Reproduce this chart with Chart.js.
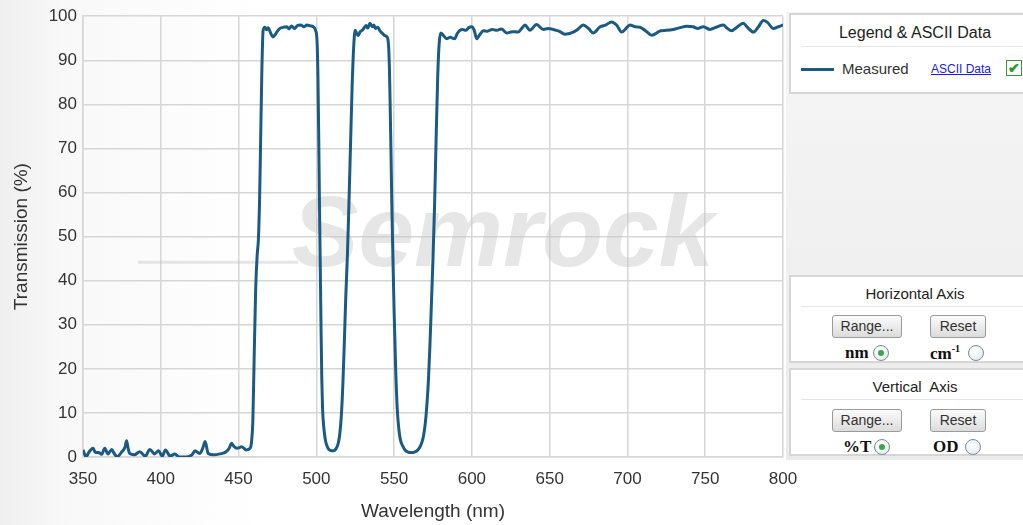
<!DOCTYPE html>
<html><head><meta charset="utf-8">
<script src="https://cdn.jsdelivr.net/npm/chart.js@4/dist/chart.umd.min.js"></script>
<style>
html,body{margin:0;padding:0;width:1023px;height:525px;overflow:hidden;}
body{position:relative;background:linear-gradient(to right,#efefef 0px,#f8f8f8 60px,#ffffff 260px);font-family:"Liberation Sans",Arial,sans-serif;color:#222;}
#c{position:absolute;left:0;top:0;}
#side{position:absolute;left:786px;top:12px;width:237px;height:448px;background:linear-gradient(to bottom,#f6f6f6,#ebebeb);}
.box{position:absolute;left:789px;width:252px;background:#fff;border:2px solid #d6d6d6;box-sizing:border-box;}
.ttl{position:absolute;left:0;width:248px;text-align:center;font-size:16px;color:#222;}
.sep{position:absolute;left:10px;width:230px;height:1px;background:#e6e6e6;}
.btn{position:absolute;height:23px;box-sizing:border-box;border:1px solid #9a9a9a;border-radius:3px;background:linear-gradient(to bottom,#fbfbfb,#dcdcdc);font-size:14px;color:#333;text-align:center;line-height:21px;}
.lbl{position:absolute;font-family:"Liberation Serif","Times New Roman",serif;font-weight:bold;font-size:17px;color:#111;}
.rad{position:absolute;width:16px;height:16px;border-radius:50%;border:1px solid #7a8a99;background:radial-gradient(circle at 40% 35%,#ffffff,#dfe6ec);box-sizing:border-box;}
.rad.on::after{content:"";position:absolute;left:4px;top:4px;width:6px;height:6px;border-radius:50%;background:#3aa64a;}
</style>
</head><body>
<canvas id="c" width="1023" height="525"></canvas>
<div id="side"></div>

<div class="box" style="top:13px;height:81px;">
  <div class="ttl" style="top:9px;">Legend &amp; ASCII Data</div>
  <div class="sep" style="top:31px;"></div>
  <div style="position:absolute;left:10px;top:53px;width:33px;height:3px;background:#1b5a82;"></div>
  <div style="position:absolute;left:51px;top:45px;font-size:15px;color:#333;">Measured</div>
  <div style="position:absolute;left:140px;top:47px;font-size:12px;color:#1a1aee;text-decoration:underline;">ASCII Data</div>
  <div style="position:absolute;left:215px;top:45px;width:16px;height:16px;border:1px solid #3a9a3a;box-sizing:border-box;background:#fff;color:#2a9a2a;font-size:14px;line-height:14px;text-align:center;font-weight:bold;">✔</div>
</div>

<div class="box" style="top:275px;height:88px;">
  <div class="ttl" style="top:8px;font-size:15px;">Horizontal Axis</div>
  <div class="sep" style="top:29px;"></div>
  <div class="btn" style="left:41px;top:38px;width:70px;">Range...</div>
  <div class="btn" style="left:139px;top:38px;width:56px;">Reset</div>
  <div class="lbl" style="left:54px;top:66px;">nm</div>
  <div class="rad on" style="left:82px;top:68px;"></div>
  <div class="lbl" style="left:139px;top:66px;">cm<sup style="font-size:10px;">-1</sup></div>
  <div class="rad" style="left:177px;top:68px;"></div>
</div>

<div class="box" style="top:368px;height:88px;">
  <div class="ttl" style="top:8px;font-size:15px;">Vertical&nbsp; Axis</div>
  <div class="sep" style="top:29px;"></div>
  <div class="btn" style="left:41px;top:39px;width:70px;">Range...</div>
  <div class="btn" style="left:139px;top:39px;width:56px;">Reset</div>
  <div class="lbl" style="left:52px;top:67px;">%T</div>
  <div class="rad on" style="left:83px;top:69px;"></div>
  <div class="lbl" style="left:142px;top:67px;">OD</div>
  <div class="rad" style="left:174px;top:69px;"></div>
</div>

<script>
const wavelengths = [
350,352,354,356.5,358,360,362,364,366,368.5,370,372,375,377,378,379,380,383,386.5,390,
393,396,398.5,401,403,406,409,412,416,420,422,425,427,428.5,430.5,434,438,442,444,445.5,
447,449,452,455,457.5,458.5,459.2,460,461,462,462.7,463.5,464.2,465,465.8,467,468,469,470.5,472,
473.5,475,477,479,481,482.5,484,486,488,490,492,494,496,498,499.5,500.5,501,501.5,502,502.5,
503,503.5,504,505,506,507.5,509,511,512.5,514,515,516,517,518,519,520,521,522,523,524,
525,526,527,528,529.5,531,532,533,534.5,536,537,538,539.5,541,542.5,544,545.5,546.5,547,547.5,
548,548.5,549,549.5,550,551,552,553,554,555.5,557,559,561,563,565,566.5,568,569,570,571,
572,573,574,575,576,577,578,579,580,581.5,583.8,586,589,590.5,592.3,594,596,598,599.9,601.5,
603.1,605,607.4,610,613,616,619,622.4,626,629.8,632,634.1,637.3,641.6,645.9,649,652.3,656,659.8,665.2,
668,671.6,675,678,682.4,686,689.9,693,696.3,699,701.6,705,708.1,712,715.6,721.4,725,729.5,734,738.1,
742.3,745,748.8,753.1,757,761.7,764,767,770,774.5,777,781,784,787.4,790,793.8,797,800
];
const transmission = [
1.6,0.1,1.2,2.0,1.0,1.0,0.6,2.0,0.7,1.7,0.8,0.1,1.2,2.2,3.7,2.0,0.8,0.5,1.2,0.2,
1.7,0.7,1.4,0.2,1.6,0.2,0.7,0.0,0.0,0.5,1.4,0.8,2.0,3.5,0.8,0.5,0.7,1.2,2.0,3.1,
2.4,2.0,2.3,1.6,2.0,4,8.4,22,38,46,49,58,72,88,96.8,97.5,96.9,97.4,96.3,95.3,
95.8,96.6,97.3,97.5,97.6,97.1,97.8,97.2,97.9,98.0,97.6,98.0,97.8,97.6,96.8,94,87,74,58,44,
30,18,11,6,3.5,2,1.5,1.4,1.8,3,5,9,16,26,37,46,58,71,84,93,
96.8,96,95.6,96.4,96.8,97.5,97.9,97.3,98.4,97.6,98.0,97.2,97.5,96.6,96.1,95.6,95.3,93,88,79,
69,58,49,41,33,20,11,6.5,4,2.5,1.6,1.1,1.0,1.1,1.5,2.2,3.5,5,7.5,11.5,
17,25,35,45,57,72,86,94,96.2,95.7,94.9,95.2,94.9,96,96.8,97,96.8,97.4,97.6,96.8,
94.9,95.8,96.7,96.6,97.0,96.8,97.1,96.2,96.5,96.4,97.2,98.0,96.8,98.1,97.0,97.2,97.0,96.6,95.9,96.4,
97.0,98.0,97.2,96.2,97.6,98.0,98.7,98.0,96.4,97.2,98.0,97.6,97.5,96.6,95.7,96.7,96.8,97.0,97.4,97.7,
97.6,97.2,97.6,97.0,97.5,98.0,97.3,96.7,97.4,98.4,97.5,96.4,97.5,99.0,98.6,97.2,97.6,98.0
];
const xTickValues = [350,400,450,500,550,600,650,700,750,800];
const yTickValues = [0,10,20,30,40,50,60,70,80,90,100];
const seriesName = 'Measured';
const watermarkText = 'Semrock';

const gridColor = '#d6d6d6';
const tickFont = {family:'"Liberation Sans", Arial, sans-serif', size:17};
const titleFont = {family:'"Liberation Sans", Arial, sans-serif', size:19};

const watermark = {
  id:'watermark',
  beforeDatasetsDraw(chart){
    const {ctx, chartArea} = chart;
    ctx.save();
    ctx.font = 'italic bold 100px "Liberation Sans", Arial, sans-serif';
    ctx.fillStyle = 'rgba(200,200,200,0.45)';
    ctx.textAlign = 'center';
    ctx.textBaseline = 'middle';
    ctx.fillText(watermarkText, chartArea.left + 420, chartArea.top + 222);
    ctx.strokeStyle = 'rgba(200,200,200,0.45)';
    ctx.lineWidth = 3;
    ctx.beginPath();
    ctx.moveTo(chartArea.left + 55, chartArea.top + 246);
    ctx.lineTo(chartArea.left + 215, chartArea.top + 246);
    ctx.stroke();
    ctx.restore();
  }
};

new Chart(document.getElementById('c'), {
  type:'line',
  data:{datasets:[{
    label:seriesName,
    data:wavelengths.map((w,i)=>({x:w,y:transmission[i]})),
    borderColor:'#1b5a82',
    borderWidth:3,
    pointRadius:0,
    fill:false,
    cubicInterpolationMode:'monotone'
  }]},
  options:{
    responsive:false,
    animation:false,
    layout:{padding:{top:16,right:240,left:0,bottom:0}},
    plugins:{legend:{display:false},tooltip:{enabled:false}},
    scales:{
      x:{
        type:'linear',min:350,max:800,
        afterBuildTicks(s){ s.ticks = xTickValues.map(v=>({value:v})); },
        afterFit(s){ s.height = 68; },
        ticks:{font:tickFont,color:'#333',padding:12,maxRotation:0,autoSkip:false},
        grid:{color:gridColor,lineWidth:1.5,drawTicks:false},
        border:{color:gridColor,width:1.5},
        title:{display:true,text:'Wavelength (nm)',font:titleFont,color:'#333',padding:{top:0,bottom:2}}
      },
      y:{
        min:0,max:100,
        afterBuildTicks(s){ s.ticks = yTickValues.map(v=>({value:v})); },
        afterFit(s){ s.width = 83; },
        ticks:{font:tickFont,color:'#333',padding:6},
        grid:{color:gridColor,lineWidth:1.5,drawTicks:false},
        border:{color:gridColor,width:1.5},
        title:{display:true,text:'Transmission (%)',font:titleFont,color:'#333',padding:{top:10,bottom:0}}
      }
    }
  },
  plugins:[watermark]
});
</script>
</body></html>
